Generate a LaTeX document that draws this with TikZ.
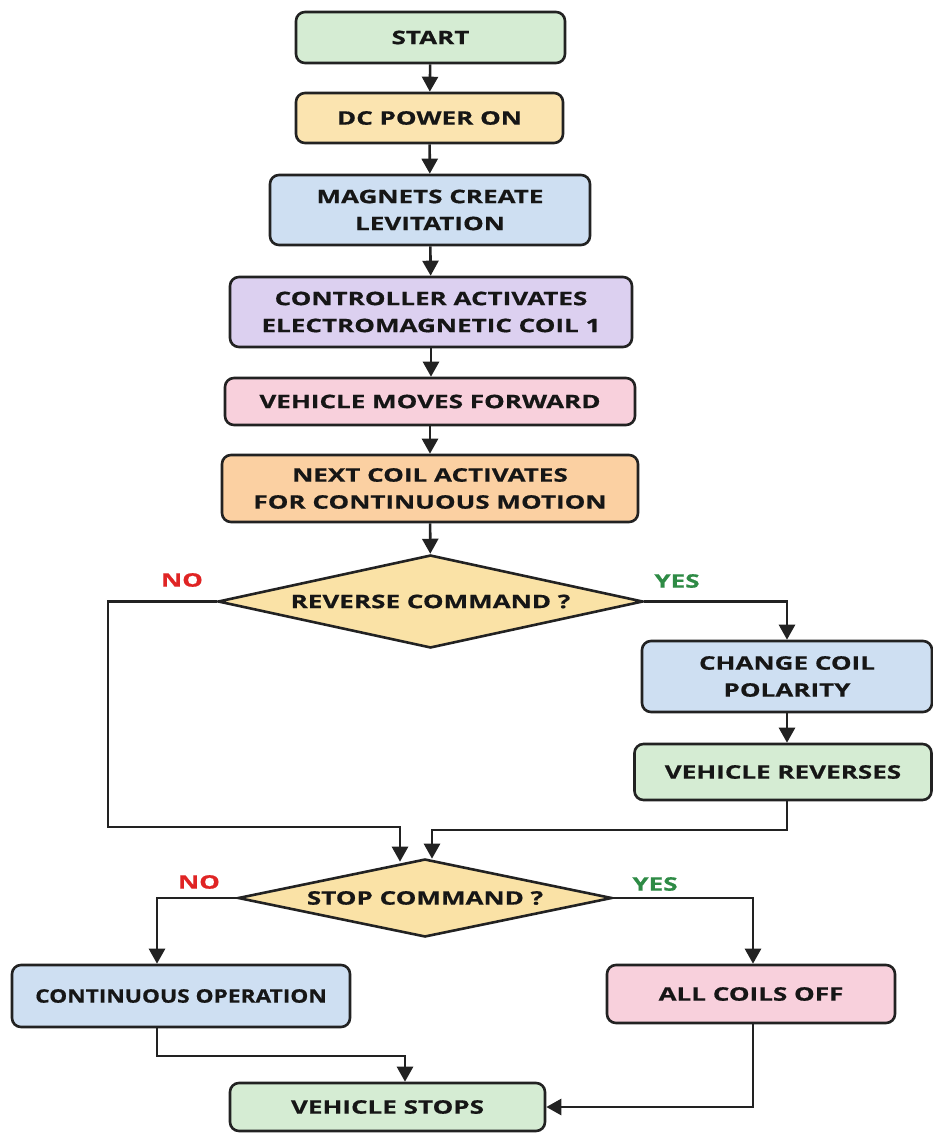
\documentclass[tikz,border=0pt]{standalone}
\usepackage{fontspec}
\setmainfont{Open Sans}[FakeStretch=1.4, BoldFeatures={FakeBold=0.6}]
\newfontfamily\narrowfont{Open Sans}[FakeStretch=1.22, BoldFeatures={FakeBold=0.6}]
\usetikzlibrary{shapes.geometric,arrows.meta,calc}
\definecolor{lineC}{HTML}{222222}
\definecolor{txtC}{HTML}{161616}
\definecolor{greenC}{HTML}{D5ECD3}
\definecolor{yellowC}{HTML}{FBE4B0}
\definecolor{blueC}{HTML}{CEDFF2}
\definecolor{purpleC}{HTML}{DCD0F0}
\definecolor{pinkC}{HTML}{F8D0DC}
\definecolor{orangeC}{HTML}{FBD0A2}
\definecolor{diaC}{HTML}{FAE2A6}
\definecolor{noC}{HTML}{E02424}
\definecolor{yesC}{HTML}{2E8B45}
\begin{document}
\begin{tikzpicture}[x=1pt,y=-1pt,
  lbl/.style={font=\fontsize{18.6}{27}\selectfont\bfseries},
  box/.style={draw=lineC, line width=2.6pt, rounded corners=9pt, align=center,
    inner sep=0pt, lbl, text=txtC},
  dec/.style={diamond, draw=lineC, line width=2.6pt, inner sep=0pt, lbl,
    text=txtC, fill=diaC},
  ln/.style={draw=lineC, line width=2.6pt},
  arr/.style={ln, -{Triangle[length=15pt,width=16pt]}},
  nolbl/.style={lbl, text=noC},
  yeslbl/.style={lbl, text=yesC}]
\useasboundingbox (0,0) rectangle (933,1133);
\fill[white] (0,0) rectangle (933,1133);

\node[box, fill=greenC, minimum width=269pt, minimum height=51pt] (start) at (430.5,37.5) {START};
\node[box, fill=yellowC, minimum width=267pt, minimum height=50pt] (dc) at (429.5,118) {DC POWER ON};
\node[box, fill=blueC, minimum width=320pt, minimum height=70pt] (mag) at (430,210) {MAGNETS CREATE\\LEVITATION};
\node[box, fill=purpleC, minimum width=402pt, minimum height=70pt] (ctrl) at (431,312) {CONTROLLER ACTIVATES\\ELECTROMAGNETIC COIL 1};
\node[box, fill=pinkC, minimum width=410pt, minimum height=47pt] (fwd) at (430,401.5) {VEHICLE MOVES FORWARD};
\node[box, fill=orangeC, minimum width=416pt, minimum height=67pt] (next) at (430,488.5) {NEXT COIL ACTIVATES\\FOR CONTINUOUS MOTION};
\node[dec, shape aspect=4.57, minimum width=425pt, minimum height=93pt] (rev) at (430.5,601.5) {REVERSE COMMAND ?};
\node[box, fill=blueC, minimum width=290pt, minimum height=71pt] (cc) at (787,676.5) {CHANGE COIL\\POLARITY};
\node[box, fill=greenC, minimum width=297pt, minimum height=56pt] (vrev) at (783,772) {VEHICLE REVERSES};
\node[dec, shape aspect=4.8, minimum width=374pt, minimum height=78pt] (stop) at (425,898) {STOP COMMAND ?};
\node[box, fill=blueC, minimum width=338pt, minimum height=62pt] (cont) at (181,996) {\narrowfont CONTINUOUS OPERATION};
\node[box, fill=pinkC, minimum width=288pt, minimum height=58pt] (off) at (751,994) {ALL COILS OFF};
\node[box, fill=greenC, minimum width=315pt, minimum height=48pt] (vstop) at (387.5,1107) {VEHICLE STOPS};

\node[nolbl] (no1) at (182,580) {NO};
\node[yeslbl] (yes1) at (677,581) {YES};
\node[nolbl] (no2) at (199,882) {NO};
\node[yeslbl] (yes2) at (655,884) {YES};

\coordinate (noturn) at (108,827);
\coordinate (yesturn) at (432,830);
\coordinate (contturn) at (157,1056);

\draw[arr] (start) -- (dc);
\draw[arr] (dc) -- (mag);
\draw[arr] (mag) -- (ctrl);
\draw[arr] (ctrl.south) -- (ctrl.south |- fwd.north);
\draw[arr] (fwd) -- (next);
\draw[arr] (next) -- (rev);
\draw[arr] (rev.west) -| (noturn) -| ($(stop.north)+(-25,4)$);
\draw[arr] (rev.east) -| (cc.north);
\draw[arr] (cc.south) -- (cc.south |- vrev.north);
\draw[arr] (cc.south |- vrev.south) |- (yesturn) -- ($(stop.north)+(7,1)$);
\draw[arr] (stop.west) -| ([xshift=-24pt]cont.north);
\draw[arr] (stop.east) -| ([xshift=2pt]off.north);
\draw[arr] ([xshift=-24pt]cont.south) |- (contturn) -| ([xshift=17.5pt]vstop.north);
\draw[arr] ([xshift=2pt]off.south) |- (vstop.east);
\end{tikzpicture}
\end{document}
